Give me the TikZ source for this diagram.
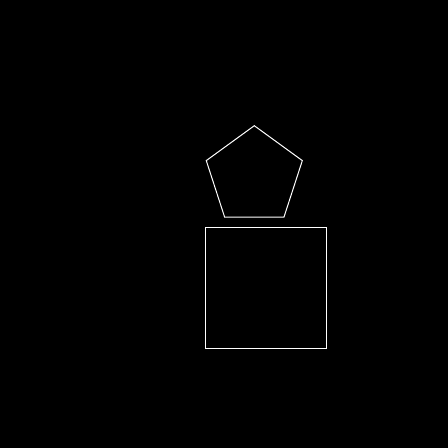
\documentclass[tikz,border=0pt]{standalone}
\usetikzlibrary{shapes.geometric}
\begin{document}
\begin{tikzpicture}[x=1pt,y=-1pt,
  outline/.style={draw=white,line width=1pt,inner sep=0pt,outer sep=0pt}]
\fill[black] (0,0) rectangle (448,448);
\useasboundingbox (0,0) rectangle (448,448);
\node[outline,regular polygon,regular polygon sides=5,minimum size=101pt] (pent) at (254.3,176.2) {};
\node[outline,rectangle,minimum width=121pt,minimum height=121pt] (sq) at (266.2,287.8) {};
\end{tikzpicture}
\end{document}
